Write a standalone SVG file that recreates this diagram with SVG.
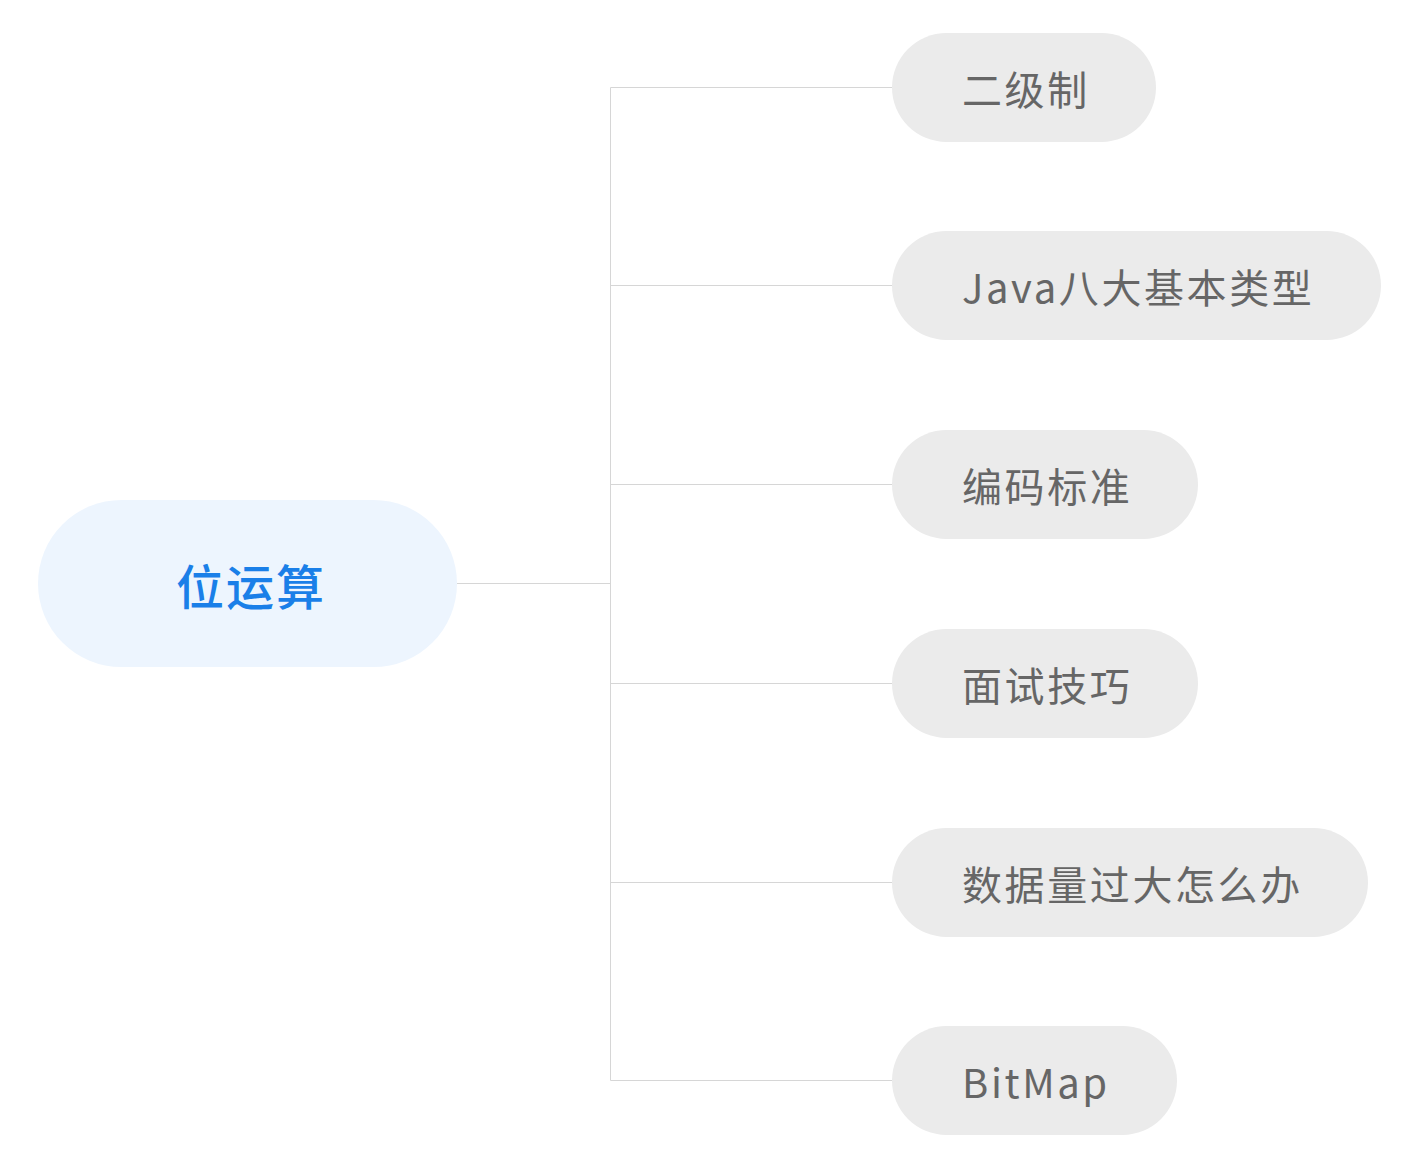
<svg xmlns="http://www.w3.org/2000/svg" width="1419" height="1167" viewBox="0 0 1419 1167">
<style>
.child rect{fill:#EBEBEB}
.child text{font-family:"Noto Sans CJK SC","Noto Sans",sans-serif;font-size:40px;fill:#666666;letter-spacing:2.6px}
.root rect{fill:#EDF5FE}
.root text{font-family:"Noto Sans CJK SC","Noto Sans",sans-serif;font-size:48px;font-weight:500;fill:#1A7FE8;letter-spacing:2px}
.conn{stroke:#D6D6D6;stroke-width:1;fill:none}
</style>
<rect width="1419" height="1167" fill="#FFFFFF"/>
<g id="connectors">
<path class="conn" d="M457 583.5H610.5M610.5 87.5V1080.5M610.5 87.5H892M610.5 285.5H892M610.5 484.5H892M610.5 683.5H892M610.5 882.5H892M610.5 1080.5H892"/>
</g>
<g id="root" class="root">
<rect x="38" y="500" width="419" height="167" rx="83.5"/>
<text x="176" y="605">位运算</text>
</g>
<g id="n1" class="child">
<rect x="892" y="33" width="264" height="109" rx="54.5"/>
<text x="962" y="105">二级制</text>
</g>
<g id="n2" class="child">
<rect x="892" y="231" width="489" height="109" rx="54.5"/>
<text x="962" y="303">Java八大基本类型</text>
</g>
<g id="n3" class="child">
<rect x="892" y="430" width="306" height="109" rx="54.5"/>
<text x="962" y="502">编码标准</text>
</g>
<g id="n4" class="child">
<rect x="892" y="629" width="306" height="109" rx="54.5"/>
<text x="962" y="701">面试技巧</text>
</g>
<g id="n5" class="child">
<rect x="892" y="828" width="476" height="109" rx="54.5"/>
<text x="962" y="900">数据量过大怎么办</text>
</g>
<g id="n6" class="child">
<rect x="892" y="1026" width="285" height="109" rx="54.5"/>
<text x="962" y="1098">BitMap</text>
</g>
</svg>
